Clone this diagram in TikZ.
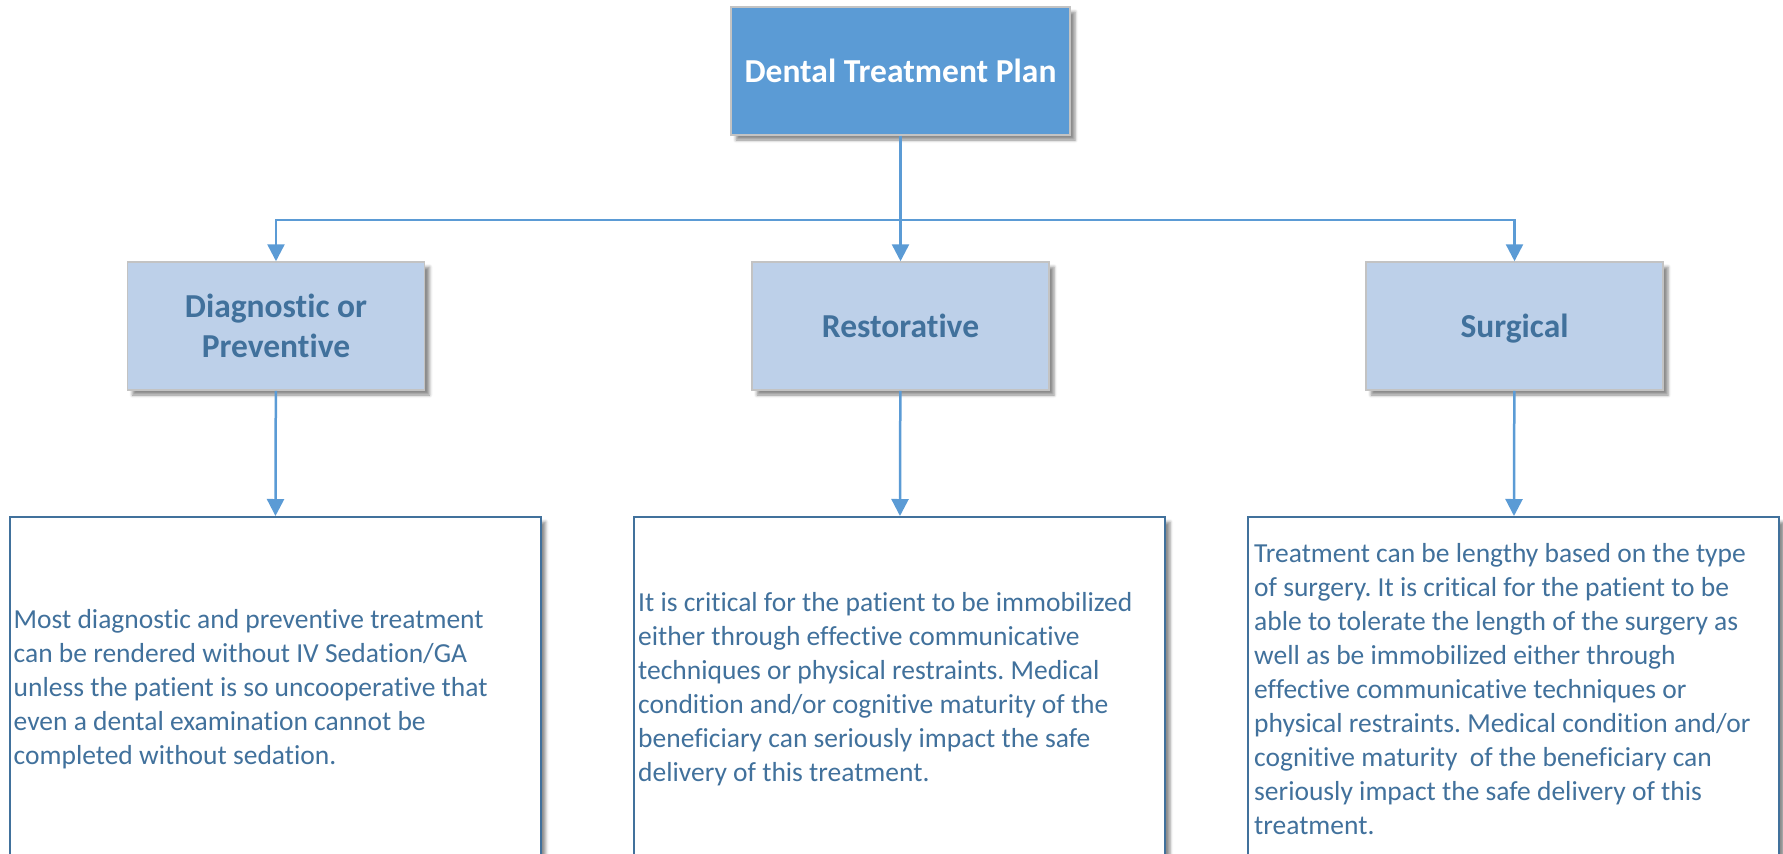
\documentclass[tikz,border=0pt]{standalone}
\usepackage{fontspec}
\setmainfont{Carlito}[Ligatures=NoCommon]
\usetikzlibrary{arrows.meta,shadows.blur,positioning}
\definecolor{planblue}{RGB}{91,155,213}
\definecolor{paleblue}{RGB}{189,208,233}
\definecolor{inkblue}{RGB}{65,113,156}
\definecolor{rimgray}{RGB}{195,195,195}
\frenchspacing

\begin{document}
\begin{tikzpicture}[x=1pt, y=-1pt]
        \tikzstyle{lifted} = [blur shadow={shadow xshift=5pt, shadow yshift=-5pt, shadow blur radius=3pt, shadow opacity=45}]
        \tikzstyle{head} = [rectangle, draw=rimgray, line width=1.5pt, fill=planblue, text=white, font=\bfseries\fontsize{33.5}{40}\selectfont, minimum width=339pt, minimum height=128pt, lifted]
        \tikzstyle{kind} = [rectangle, draw=rimgray, line width=1.5pt, fill=paleblue, text=inkblue, font=\bfseries\fontsize{33.5}{40}\selectfont, align=center, minimum width=297pt, minimum height=128pt, lifted]
        \tikzstyle{note} = [rectangle, draw=inkblue, line width=2pt, fill=white, minimum width=531pt, minimum height=345pt, lifted]
        \tikzstyle{notetext} = [text=inkblue, font=\fontsize{27.5}{34}\selectfont, align=left, inner sep=0pt]
        \tikzstyle{link} = [draw=planblue, line width=2.5pt, -{Triangle[width=17pt,length=17pt]}]
        \useasboundingbox (0,0) rectangle (1783,854);
        \clip (0,0) rectangle (1783,854);

        \node[head] (plan) at (900.5,71) {Dental Treatment Plan};

        \node[kind] (diag) at (276,326) {Diagnostic or\\Preventive};
        \node[kind] (rest) at (900.5,326) {Restorative};
        \node[kind, text depth=0pt] (surg) at (1514.5,326) {Surgical};

        \node[note] (diagbox) at (275,689.5) {};
        \node[note] (restbox) at (899.5,689.5) {};
        \node[note] (surgbox) at (1513.5,689.5) {};

        \node[notetext, right=5pt of diagbox.west] (diagtext) {Most diagnostic and preventive treatment\\can be rendered without IV Sedation/GA\\unless the patient is so uncooperative that\\even a dental examination cannot be\\completed without sedation.};
        \node[notetext, right=5pt of restbox.west] (resttext) {It is critical for the patient to be immobilized\\either through effective communicative\\techniques or physical restraints. Medical\\condition and/or cognitive maturity of the\\beneficiary can seriously impact the safe\\delivery of this treatment.};
        \node[notetext, right=7pt of surgbox.west] (surgtext) {Treatment can be lengthy based on the type\\of surgery. It is critical for the patient to be\\able to tolerate the length of the surgery as\\well as be immobilized either through\\effective communicative techniques or\\physical restraints. Medical condition and/or\\cognitive maturity\ \ of the beneficiary can\\seriously impact the safe delivery of this\\treatment.};

        \coordinate (bus) at (900.5,220);
        \draw[link] (plan) -- (rest);
        \draw[link] (bus) -| (diag.north);
        \draw[link] (bus) -| (surg.north);
        \draw[link] (diag) -- (diagbox);
        \draw[link] (rest) -- (restbox);
        \draw[link] (surg) -- (surgbox);
\end{tikzpicture}
\end{document}
